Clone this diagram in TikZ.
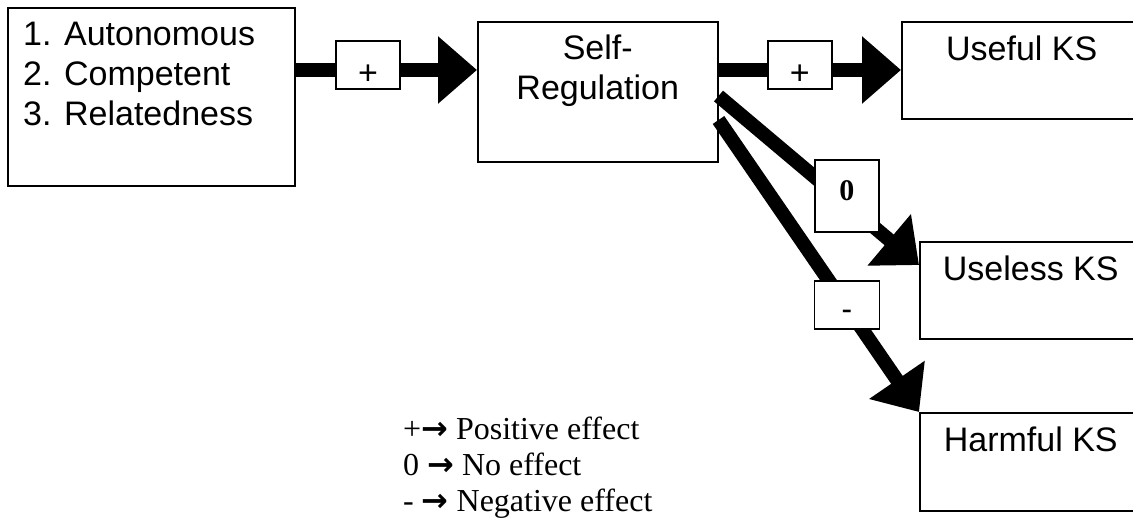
\documentclass[tikz,border=0pt]{standalone}
\usepackage{fontspec}
\setmainfont{Liberation Serif}
\setsansfont{Liberation Sans}
\newfontfamily\arrowfont{DejaVu Sans}
\usepackage{tikz}
\usetikzlibrary{positioning}
\usetikzlibrary{arrows.meta}
\tikzstyle{box}=[draw, line width=1.5pt, inner sep=0pt, anchor=north west]
\tikzstyle{boxtext}=[inner sep=0pt, font=\sffamily\fontsize{34}{40}\selectfont]
\tikzstyle{sign}=[draw, fill=white, line width=1.5pt, inner sep=0pt, minimum width=64pt, minimum height=48pt, text height=38pt, text depth=0pt, font=\sffamily\fontsize{34}{40}\selectfont]
\tikzstyle{effect}=[-{Triangle[length=39pt, width=65pt]}, line width=14pt]
\tikzstyle{legend}=[inner sep=0pt, anchor=base west, font=\fontsize{32}{36}\selectfont]

\begin{document}
\begin{tikzpicture}[x=1pt, y=-1pt]
    \useasboundingbox (0,0) rectangle (1133,520);
    \clip (0,0) rectangle (1133,520);

    \node[box, minimum width=287pt, minimum height=178pt] (needs)   at (7,7)     {};
    \node[box, minimum width=240pt, minimum height=140pt] (selfreg) at (477,21)  {};
    \node[box, minimum width=240pt, minimum height=97pt]  (useful)  at (901,21)  {};
    \node[box, minimum width=222pt, minimum height=97pt]  (useless) at (919,241) {};
    \node[box, minimum width=222pt, minimum height=98pt]  (harmful) at (919,412) {};

    \node[boxtext, align=left]   (needstext)   [below right=15pt and 16pt of needs.north west] {1. Autonomous\\2. Competent\\3. Relatedness};
    \node[boxtext, align=center] (selfregtext) [below=14pt of selfreg.north]                   {Self-\\Regulation};
    \node[boxtext] (usefultext)  [below=39pt of useful.north, anchor=base]  {Useful KS};
    \node[boxtext] (uselesstext) [below=39pt of useless.north, anchor=base] {Useless KS};
    \node[boxtext] (harmfultext) [below=39pt of harmful.north, anchor=base] {Harmful KS};

    \coordinate (row) at (0,70);
    \draw[effect] (needs.east |- row)   -- node[sign, pos=0.40, yshift=5pt]  (plusin)  {+} (selfreg.west |- row);
    \draw[effect] (selfreg.east |- row) -- node[sign, pos=0.446, yshift=5pt] (plusout) {+} (useful.west |- row);
    \draw[effect] ([yshift=-75pt]selfreg.north east) -- node[sign, pos=0.64, yshift=8pt, minimum height=72pt, text height=20pt, text depth=12pt, font=\bfseries\fontsize{30}{36}\selectfont] (zero) {0} ([yshift=-24pt]useless.north west);
    \draw[effect] ([yshift=-99pt]selfreg.north east) -- node[sign, pos=0.64, yshift=2pt, minimum width=65pt, text height=27pt, font=\bfseries\fontsize{30}{36}\selectfont] (minus) {-} (harmful.north west);

    \node[legend] (positive) at (403,439)                                        {+{\arrowfont\bfseries →} Positive effect};
    \node[legend] (noeffect) [below=36pt of positive.base west, anchor=base west] {0 {\arrowfont\bfseries →} No effect};
    \node[legend] (negative) [below=36pt of noeffect.base west, anchor=base west] {- {\arrowfont\bfseries →} Negative effect};
\end{tikzpicture}
\end{document}
